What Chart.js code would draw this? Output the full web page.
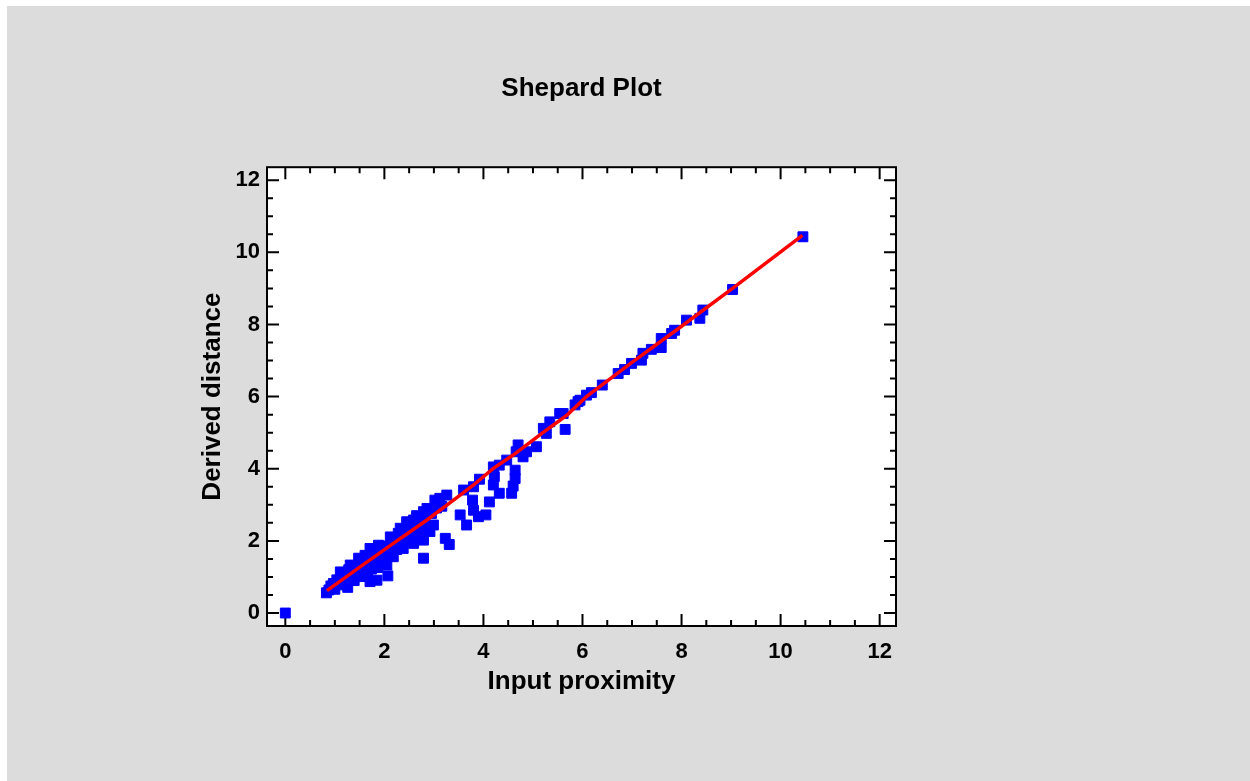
<!DOCTYPE html>
<html>
<head>
<meta charset="utf-8">
<title>Shepard Plot</title>
<script src="https://cdn.jsdelivr.net/npm/chart.js@4.4.0/dist/chart.umd.min.js"></script>
<style>
  html, body { margin: 0; padding: 0; background: #fff; }
</style>
</head>
<body>
<canvas id="grafico" width="1250" height="781"></canvas>
<script>
// valores (proximidad de entrada vs distancia derivada)
const inputProximity = [
  0, 0.83, 0.88, 0.92, 0.97, 1.0, 1.04, 1.07, 1.11, 1.14, 1.18, 1.21, 1.26, 1.28, 1.3, 1.31, 1.35, 1.39,
  1.42, 1.45, 1.48, 1.5, 1.51, 1.55, 1.58, 1.61, 1.63, 1.66, 1.68, 1.71, 1.71, 1.74, 1.76, 1.8,
  1.83, 1.85, 1.86, 1.88, 1.91, 1.95, 1.98, 2.01, 2.05, 2.07, 2.09, 2.12, 2.15, 2.18, 2.21, 2.25,
  2.28, 2.32, 2.35, 2.38, 2.41, 2.45, 2.48, 2.51, 2.55, 2.59, 2.59, 2.62, 2.65, 2.7, 2.75, 2.79,
  2.79, 2.79, 2.82, 2.86, 2.88, 2.92, 2.95, 2.99, 3.02, 3.05, 3.12, 3.16, 3.23, 3.26, 3.31,
  3.53, 3.6, 3.66, 3.78, 3.8, 3.8, 3.9, 3.92, 4.05, 4.12, 4.2, 4.22, 4.2, 4.32, 4.32, 4.47, 4.57,
  4.6, 4.64, 4.64, 4.7, 4.66, 4.8, 4.87, 5.07, 5.21, 5.27, 5.34, 5.54, 5.65, 5.61,
  5.85, 5.91, 5.95, 6.08, 6.18, 6.4, 6.72, 6.85, 6.99, 7.19, 7.22, 7.39, 7.59, 7.59, 7.8, 7.86,
  8.1, 8.37, 8.43, 9.03, 10.45
];
const derivedDistance = [
  0, 0.56, 0.64, 0.75, 0.82, 0.66, 0.92, 0.78, 1.14, 0.96, 0.86, 1.06, 0.71, 1.2, 0.96, 1.33, 1.12, 0.9,
  1.26, 1.06, 1.52, 1.32, 1.01, 1.42, 1.16, 1.6, 1.36, 1.02, 1.5, 0.87, 1.79, 1.22, 1.63, 1.42,
  1.72, 0.91, 1.26, 1.88, 1.56, 1.76, 1.43, 1.86, 1.33, 1.03, 1.66, 2.11, 1.91, 1.56, 2.01, 1.76,
  2.21, 2.35, 1.96, 1.79, 2.16, 2.53, 2.31, 2.02, 2.41, 2.58, 1.93, 2.21, 2.7, 2.46, 2.22, 2.81,
  2.02, 1.52, 2.61, 2.9, 2.36, 2.26, 2.76, 2.44, 3.13, 2.91, 3.18, 2.96, 2.07, 3.27, 1.9,
  2.72, 3.41, 2.44, 3.13, 2.85, 3.5, 2.67, 3.71, 2.72, 3.08, 4.05, 3.78, 3.55, 3.32, 4.1, 4.24, 3.32,
  3.52, 3.73, 3.96, 4.66, 4.47, 4.33, 4.47, 4.61, 5.12, 4.98, 5.3, 5.53, 5.09, 5.53,
  5.77, 5.86, 5.9, 6.04, 6.11, 6.32, 6.64, 6.75, 6.92, 7.01, 7.2, 7.31, 7.36, 7.61, 7.75, 7.84,
  8.12, 8.17, 8.4, 8.97, 10.43
];

// regresion monotona (linea roja)
const fitX = [0.84, 1.51, 2.18, 2.86, 3.53, 3.8, 4.2, 4.6, 5.2, 5.7, 6.08, 7.0, 8.0, 9.03, 10.44];
const fitY = [0.62, 1.28, 1.93, 2.58, 3.27, 3.55, 4.01, 4.38, 5.0, 5.5, 6.0, 6.95, 7.95, 9.0, 10.47];

const xTicks = [0, 2, 4, 6, 8, 10, 12];
const yTicks = [0, 2, 4, 6, 8, 10, 12];

const puntos = inputProximity.map((x, i) => ({ x: x, y: derivedDistance[i] }));
const ajuste = fitX.map((x, i) => ({ x: x, y: fitY[i] }));

const fuente = "'Liberation Sans', Arial, sans-serif";

// marcas menores cada 0.5
const menores = [];
for (let v = 0; v <= 12; v += 0.5) menores.push(v);

// fondo gris, area blanca, marco y marcas hacia adentro
const marco = {
  id: "marco",
  beforeDraw(chart) {
    const { ctx, chartArea: a } = chart;
    ctx.save();
    ctx.fillStyle = "#ffffff";
    ctx.fillRect(0, 0, chart.width, chart.height);
    ctx.fillStyle = "#dcdcdc";
    ctx.fillRect(7, 6, chart.width - 7, chart.height - 6);
    ctx.fillStyle = "#ffffff";
    ctx.fillRect(a.left, a.top, a.right - a.left, a.bottom - a.top);
    ctx.restore();
  },
  beforeDatasetsDraw(chart) {
    const { ctx, chartArea: a, scales } = chart;
    ctx.save();
    ctx.strokeStyle = "#000000";
    ctx.lineWidth = 2;
    ctx.beginPath();
    menores.forEach((v) => {
      const largo = v % 2 === 0 ? 12 : 6;
      const px = scales.x.getPixelForValue(v);
      ctx.moveTo(px, a.bottom);
      ctx.lineTo(px, a.bottom - largo);
      ctx.moveTo(px, a.top);
      ctx.lineTo(px, a.top + largo);
      const py = scales.y.getPixelForValue(v);
      ctx.moveTo(a.left, py);
      ctx.lineTo(a.left + largo, py);
      ctx.moveTo(a.right, py);
      ctx.lineTo(a.right - largo, py);
    });
    ctx.stroke();
    ctx.strokeRect(a.left, a.top, a.right - a.left, a.bottom - a.top);
    ctx.restore();
  },
};

const ctx = document.getElementById("grafico");
const myChart = new Chart(ctx, {
  data: {
    datasets: [
      {
        type: "line",
        data: ajuste,
        borderColor: "#ff0000",
        borderWidth: 3.5,
        pointRadius: 0,
        tension: 0,
        fill: false,
        order: 0,
      },
      {
        type: "scatter",
        data: puntos,
        backgroundColor: "#0000ff",
        borderColor: "#0000ff",
        borderWidth: 1,
        pointStyle: "rect",
        pointRadius: 7,
        order: 1,
      },
    ],
  },
  options: {
    responsive: false,
    animation: false,
    layout: {
      padding: { left: 177, right: 354, top: 0, bottom: 65 },
    },
    scales: {
      x: {
        type: "linear",
        min: -0.37,
        max: 12.33,
        grid: { display: false, drawTicks: false },
        border: { display: false },
        afterBuildTicks: (scale) => {
          scale.ticks = xTicks.map((v) => ({ value: v }));
        },
        afterFit: (scale) => {
          scale.height = 90;
        },
        ticks: {
          color: "#000000",
          padding: 13,
          maxRotation: 0,
          font: { family: fuente, size: 22, weight: "bold" },
        },
        title: {
          display: true,
          text: "Input proximity",
          color: "#000000",
          padding: { top: 0, bottom: 19 },
          font: { family: fuente, size: 26, weight: "bold" },
        },
      },
      y: {
        type: "linear",
        min: -0.36,
        max: 12.36,
        grid: { display: false, drawTicks: false },
        border: { display: false },
        afterBuildTicks: (scale) => {
          scale.ticks = yTicks.map((v) => ({ value: v }));
        },
        afterFit: (scale) => {
          scale.width = 90;
        },
        ticks: {
          color: "#000000",
          padding: 7,
          font: { family: fuente, size: 22, weight: "bold" },
        },
        title: {
          display: true,
          text: "Derived distance",
          color: "#000000",
          padding: { top: 20, bottom: 0 },
          font: { family: fuente, size: 26, weight: "bold" },
        },
      },
    },
    plugins: {
      legend: { display: false },
      tooltip: { enabled: false },
      title: {
        display: true,
        text: "Shepard Plot",
        color: "#000000",
        fullSize: false,
        padding: { top: 73, bottom: 63 },
        font: { family: fuente, size: 26, weight: "bold" },
      },
    },
  },
  plugins: [marco],
});
</script>
</body>
</html>
